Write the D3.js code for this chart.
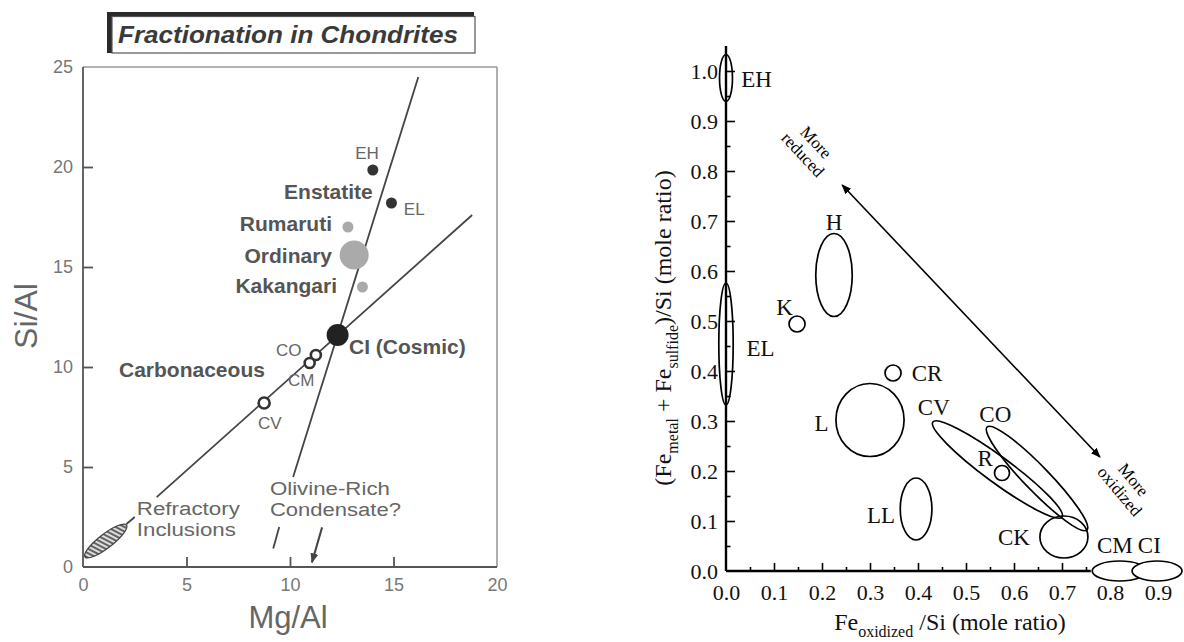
<!DOCTYPE html>
<html><head><meta charset="utf-8">
<script src="https://cdn.jsdelivr.net/npm/d3@7"></script>
<style>body{margin:0;background:#fff}</style>
</head><body>
<svg id="c" width="1184" height="642" xmlns="http://www.w3.org/2000/svg"></svg>
<script>
// ---------------- LEFT PANEL DATA ----------------
const leftTitle = "Fractionation in Chondrites";
const leftXTicks = [0, 5, 10, 15, 20];
const leftYTicks = [0, 5, 10, 15, 20, 25];
const leftGroups = ["EH", "EL", "Rumaruti", "Ordinary", "Kakangari", "CI", "CO", "CM", "CV"];
const leftMgAl = [14.0, 14.9, 12.8, 13.1, 13.5, 12.3, 11.25, 10.95, 8.75];
const leftSiAl = [19.85, 18.2, 17.0, 15.6, 14.0, 11.6, 10.6, 10.2, 8.2];
// trend lines (segments, [Mg/Al, Si/Al])
const steepLine = [[[10.15, 4.5], [16.2, 24.5]], [[9.19, 0.92], [9.48, 2.0]]];
const shallowLine = [[[2.1, 2.15], [2.5, 2.5]], [[3.56, 3.49], [18.8, 17.6]]];
const refractoryEnds = [[0.1, 0.5], [2.1, 2.1]];
const olivineArrow = [[11.55, 1.98], [11.06, 0.23]];
// text annotations [text, Mg/Al, Si/Al]
const leftTexts = [
  ["EH", 13.72, 20.4], ["EL", 15.5, 17.6], ["Enstatite", 14.0, 18.4],
  ["Rumaruti", 12.03, 16.8], ["Ordinary", 12.03, 15.2], ["Kakangari", 12.27, 13.7],
  ["CI (Cosmic)", 12.85, 10.64], ["CO", 9.32, 10.54], ["CM", 9.9, 9.04], ["CV", 8.45, 6.9],
  ["Carbonaceous", 1.74, 9.5], ["Refractory", 2.6, 2.6], ["Inclusions", 2.6, 1.55],
  ["Olivine-Rich", 9.03, 3.6], ["Condensate?", 9.03, 2.55]
];

// ---------------- RIGHT PANEL DATA ----------------
const rightXTicks = [0, 0.1, 0.2, 0.3, 0.4, 0.5, 0.6, 0.7, 0.8, 0.9];
const rightYTicks = [0, 0.1, 0.2, 0.3, 0.4, 0.5, 0.6, 0.7, 0.8, 0.9, 1.0];
const rightGroups = ["EH", "EL", "H", "K", "L", "CR", "LL", "R", "CK", "CM", "CI"];
const feOxidized = [0.0, 0.0, 0.225, 0.148, 0.30, 0.348, 0.396, 0.575, 0.704, 0.82, 0.898];
const feReduced = [0.986, 0.454, 0.592, 0.494, 0.302, 0.396, 0.124, 0.196, 0.068, 0.0, 0.0];
const feOxSpread = [0.0135, 0.015, 0.038, 0.0167, 0.071, 0.0167, 0.033, 0.0156, 0.05, 0.057, 0.052];
const feRedSpread = [0.047, 0.122, 0.083, 0.016, 0.073, 0.016, 0.062, 0.015, 0.042, 0.02, 0.02];
// elongated fields, end points of long axis
const elongGroups = ["CV", "CO"];
const elongEnds = [[[0.431, 0.298], [0.70, 0.108]], [[0.544, 0.288], [0.752, 0.082]]];
const redoxArrow = [[0.242, 0.772], [0.779, 0.228]];
// label centres [text, x, y]
const rightTexts = [
  ["EH", 0.0635, 0.984], ["K", 0.122, 0.528], ["H", 0.225, 0.698], ["EL", 0.072, 0.446],
  ["CR", 0.419, 0.396], ["L", 0.199, 0.296], ["CV", 0.433, 0.328], ["CO", 0.561, 0.314],
  ["R", 0.54, 0.226], ["LL", 0.323, 0.112], ["CK", 0.60, 0.068], ["CM", 0.81, 0.052], ["CI", 0.882, 0.052]
];

// ---------------- DRAW ----------------
const svg = d3.select("#c");
const defs = svg.append("defs");
const pat = defs.append("pattern").attr("id", "hatch").attr("width", 4).attr("height", 4)
  .attr("patternUnits", "userSpaceOnUse").attr("patternTransform", "rotate(-25)");
pat.append("rect").attr("width", 4).attr("height", 4).attr("fill", "#ddd");
pat.append("line").attr("x1", 1).attr("y1", 0).attr("x2", 1).attr("y2", 4).attr("stroke", "#444").attr("stroke-width", 1.6);
const mk = (id, col) => defs.append("marker").attr("id", id).attr("viewBox", "0 0 10 10")
  .attr("refX", 9).attr("refY", 5).attr("markerWidth", 10).attr("markerHeight", 10)
  .attr("markerUnits", "userSpaceOnUse").attr("orient", "auto-start-reverse")
  .append("path").attr("d", "M0,1 L10,5 L0,9 Z").attr("fill", col);
mk("arrR", "#000");
mk("arrL", "#444");

// LEFT
const sans = "'Liberation Sans', Arial, Helvetica, sans-serif";
const xL = d3.scaleLinear().domain([0, 20]).range([83, 497]);
const yL = d3.scaleLinear().domain([0, 25]).range([567, 67]);
const L = svg.append("g").attr("font-family", sans);

// title box
const tb = L.append("g");
tb.append("rect").attr("x", 107).attr("y", 12).attr("width", 367).attr("height", 41).attr("fill", "#2a2a2a");
tb.append("rect").attr("x", 112).attr("y", 16.5).attr("width", 363).attr("height", 36.5).attr("fill", "#fff")
  .attr("stroke", "#555").attr("stroke-width", 1.2);
tb.append("text").attr("x", 288).attr("y", 43).attr("text-anchor", "middle")
  .attr("font-size", 24).attr("font-weight", "bold").attr("font-style", "italic").attr("fill", "#3a3a3a")
  .attr("textLength", 340).attr("lengthAdjust", "spacingAndGlyphs").text(leftTitle);

// frame
L.append("line").attr("x1", xL(0)).attr("x2", xL(20)).attr("y1", yL(25)).attr("y2", yL(25)).attr("stroke", "#999").attr("stroke-width", 1.3);
L.append("line").attr("x1", xL(20)).attr("x2", xL(20)).attr("y1", yL(25)).attr("y2", yL(0)).attr("stroke", "#999").attr("stroke-width", 1.6);
L.append("line").attr("x1", xL(0)).attr("x2", xL(0)).attr("y1", yL(25)).attr("y2", yL(0)).attr("stroke", "#555").attr("stroke-width", 1.8);
L.append("line").attr("x1", xL(0)).attr("x2", xL(20)).attr("y1", yL(0)).attr("y2", yL(0)).attr("stroke", "#555").attr("stroke-width", 1.8);

const axL = L.append("g").attr("transform", `translate(${xL(0)},0)`)
  .call(d3.axisLeft(yL).tickValues(leftYTicks).tickSize(-10).tickPadding(10).tickFormat(d3.format("d")));
const axB = L.append("g").attr("transform", `translate(0,${yL(0)})`)
  .call(d3.axisBottom(xL).tickValues(leftXTicks).tickSize(-10).tickPadding(11).tickFormat(d3.format("d")));
[axL, axB].forEach(a => {
  a.select(".domain").remove();
  a.selectAll(".tick line").attr("stroke", "#555").attr("stroke-width", 1.8);
  a.selectAll(".tick text").attr("font-size", 18).attr("fill", "#777").attr("font-family", sans);
});
axL.selectAll(".tick").filter(d => d === 0 || d === 25).select("line").remove();
axB.selectAll(".tick").filter(d => d === 0 || d === 20).select("line").remove();

// axis titles
L.append("text").attr("x", 288).attr("y", 628).attr("text-anchor", "middle").attr("font-size", 31).attr("fill", "#666").text("Mg/Al");
L.append("text").attr("transform", "translate(37,316) rotate(-90)").attr("text-anchor", "middle").attr("font-size", 32).attr("fill", "#666").text("Si/Al");

// lines
const lineGen = d3.line().x(d => xL(d[0])).y(d => yL(d[1]));
[...steepLine, ...shallowLine].forEach(seg => {
  L.append("path").attr("d", lineGen(seg)).attr("stroke", "#444").attr("stroke-width", 1.8).attr("fill", "none");
});

// refractory inclusions ellipse
{
  const p1 = [xL(refractoryEnds[0][0]), yL(refractoryEnds[0][1])];
  const p2 = [xL(refractoryEnds[1][0]), yL(refractoryEnds[1][1])];
  const cx = (p1[0] + p2[0]) / 2, cy = (p1[1] + p2[1]) / 2;
  const len = Math.hypot(p2[0] - p1[0], p2[1] - p1[1]) / 2;
  const ang = Math.atan2(p2[1] - p1[1], p2[0] - p1[0]) * 180 / Math.PI;
  L.append("ellipse").attr("transform", `translate(${cx},${cy}) rotate(${ang})`)
    .attr("rx", len).attr("ry", 7).attr("fill", "url(#hatch)").attr("stroke", "#444").attr("stroke-width", 1.3);
}

// olivine arrow
L.append("path").attr("d", lineGen(olivineArrow)).attr("stroke", "#444").attr("stroke-width", 2)
  .attr("fill", "none").attr("marker-end", "url(#arrL)");

// points
const leftStyle = {
  EH: { r: 5.5, fill: "#333", stroke: "none" }, EL: { r: 5.5, fill: "#333", stroke: "none" },
  Rumaruti: { r: 5.5, fill: "#aaa", stroke: "none" }, Ordinary: { r: 14.5, fill: "#aaa", stroke: "none" },
  Kakangari: { r: 5.5, fill: "#aaa", stroke: "none" }, CI: { r: 11, fill: "#222", stroke: "none" },
  CO: { r: 5, fill: "#fff", stroke: "#333" }, CM: { r: 5, fill: "#fff", stroke: "#333" }, CV: { r: 5.5, fill: "#fff", stroke: "#333" }
};
leftGroups.forEach((g, i) => {
  const s = leftStyle[g];
  L.append("circle").attr("cx", xL(leftMgAl[i])).attr("cy", yL(leftSiAl[i])).attr("r", s.r)
    .attr("fill", s.fill).attr("stroke", s.stroke).attr("stroke-width", 2.6);
});

// texts
const bold = new Set(["Enstatite", "Rumaruti", "Ordinary", "Kakangari", "CI (Cosmic)", "Carbonaceous"]);
const endAnchor = new Set(["Enstatite", "Rumaruti", "Ordinary", "Kakangari"]);
const smallLbl = new Set(["EH", "EL", "CO", "CM", "CV"]);
const twoLine = { "Refractory": 103, "Inclusions": 99, "Olivine-Rich": 120, "Condensate?": 131 };
leftTexts.forEach(([t, x, y]) => {
  const el = L.append("text").attr("x", xL(x)).attr("y", yL(y))
    .attr("text-anchor", t === "EH" ? "middle" : endAnchor.has(t) ? "end" : "start")
    .attr("font-size", bold.has(t) ? 21 : smallLbl.has(t) ? 17 : 18)
    .attr("font-weight", bold.has(t) ? "bold" : "normal")
    .attr("fill", bold.has(t) ? "#555" : "#666").text(t);
  if (twoLine[t]) el.attr("textLength", twoLine[t]).attr("lengthAdjust", "spacingAndGlyphs");
});

// RIGHT
const serif = "'Liberation Serif', 'Times New Roman', serif";
const xR = d3.scaleLinear().domain([0, 0.9]).range([726, 1158]);
const yR = d3.scaleLinear().domain([0, 1]).range([571, 71]);
const R = svg.append("g").attr("font-family", serif);

// axes
const minorX = d3.range(0.05, 0.76, 0.1);
const minorY = d3.range(0.05, 1.01, 0.1);
const rx1 = R.append("g").attr("transform", `translate(0,${yR(0)})`)
  .call(d3.axisBottom(xR).tickValues(rightXTicks).tickSize(-8).tickPadding(13).tickFormat(d3.format(".1f")));
const rx2 = R.append("g").attr("transform", `translate(0,${yR(0)})`)
  .call(d3.axisBottom(xR).tickValues(minorX).tickSize(-4).tickFormat(""));
const ry1 = R.append("g").attr("transform", `translate(${xR(0)},0)`)
  .call(d3.axisLeft(yR).tickValues(rightYTicks).tickSize(-9).tickPadding(8).tickFormat(d3.format(".1f")));
const ry2 = R.append("g").attr("transform", `translate(${xR(0)},0)`)
  .call(d3.axisLeft(yR).tickValues(minorY).tickSize(-4.5).tickFormat(""));
[rx1, rx2, ry1, ry2].forEach(a => {
  a.select(".domain").remove();
  a.selectAll(".tick line").attr("stroke", "#000").attr("stroke-width", 1.6);
  a.selectAll(".tick text").attr("font-size", 22).attr("fill", "#111").attr("font-family", serif);
});
rx1.selectAll(".tick").filter(d => d > 0.76 || d === 0).select("line").remove();
ry1.selectAll(".tick").filter(d => d === 0).select("line").remove();
R.append("line").attr("x1", xR(0)).attr("x2", xR(0.76)).attr("y1", yR(0)).attr("y2", yR(0)).attr("stroke", "#000").attr("stroke-width", 2.4);
R.append("line").attr("x1", xR(0)).attr("x2", xR(0)).attr("y1", yR(0)).attr("y2", yR(1.05)).attr("stroke", "#000").attr("stroke-width", 2.4);

// titles
const xt = R.append("text").attr("x", 950).attr("y", 630).attr("text-anchor", "middle").attr("font-size", 24).attr("fill", "#111");
xt.append("tspan").text("Fe");
xt.append("tspan").attr("font-size", 16).attr("dy", 7).text("oxidized");
xt.append("tspan").attr("dy", -7).text(" /Si (mole ratio)");
const yt = R.append("text").attr("transform", "translate(671,328) rotate(-90)").attr("text-anchor", "middle").attr("font-size", 24).attr("fill", "#111");
yt.append("tspan").text("(Fe");
yt.append("tspan").attr("font-size", 16).attr("dy", 7).text("metal");
yt.append("tspan").attr("dy", -7).text(" + Fe");
yt.append("tspan").attr("font-size", 16).attr("dy", 7).text("sulfide");
yt.append("tspan").attr("dy", -7).text(")/Si (mole ratio)");

// fields
rightGroups.forEach((g, i) => {
  const cx = xR(feOxidized[i]), cy = yR(feReduced[i]);
  R.append("ellipse").attr("cx", cx).attr("cy", cy)
    .attr("rx", xR(feOxidized[i] + feOxSpread[i]) - cx)
    .attr("ry", cy - yR(feReduced[i] + feRedSpread[i]))
    .attr("fill", g === "CM" || g === "CI" ? "#fff" : "none")
    .attr("stroke", "#000").attr("stroke-width", 1.7);
});
const elongMinor = { CV: 13, CO: 12.5 };
elongGroups.forEach((g, i) => {
  const [a, b] = elongEnds[i];
  const p1 = [xR(a[0]), yR(a[1])], p2 = [xR(b[0]), yR(b[1])];
  const cx = (p1[0] + p2[0]) / 2, cy = (p1[1] + p2[1]) / 2;
  const len = Math.hypot(p2[0] - p1[0], p2[1] - p1[1]) / 2;
  const ang = Math.atan2(p2[1] - p1[1], p2[0] - p1[0]) * 180 / Math.PI;
  R.append("ellipse").attr("transform", `translate(${cx},${cy}) rotate(${ang})`)
    .attr("rx", len).attr("ry", elongMinor[g]).attr("fill", "none").attr("stroke", "#000").attr("stroke-width", 1.7);
});

// labels
rightTexts.forEach(([t, x, y]) => {
  R.append("text").attr("x", xR(x)).attr("y", yR(y)).attr("dy", "0.33em").attr("text-anchor", "middle")
    .attr("font-size", 23).attr("fill", "#111").text(t);
});

// redox arrow
R.append("line").attr("x1", xR(redoxArrow[0][0])).attr("y1", yR(redoxArrow[0][1]))
  .attr("x2", xR(redoxArrow[1][0])).attr("y2", yR(redoxArrow[1][1]))
  .attr("stroke", "#000").attr("stroke-width", 1.6)
  .attr("marker-start", "url(#arrR)").attr("marker-end", "url(#arrR)");
const rot1 = R.append("g").attr("transform", "translate(809,149) rotate(47)");
rot1.append("text").attr("text-anchor", "middle").attr("y", -4).attr("font-size", 17).text("More");
rot1.append("text").attr("text-anchor", "middle").attr("y", 14).attr("font-size", 17).text("reduced");
const rot2 = R.append("g").attr("transform", "translate(1126,486) rotate(50)");
rot2.append("text").attr("text-anchor", "middle").attr("y", -4).attr("font-size", 17).text("More");
rot2.append("text").attr("text-anchor", "middle").attr("y", 14).attr("font-size", 17).text("oxidized");
</script>
</body></html>
